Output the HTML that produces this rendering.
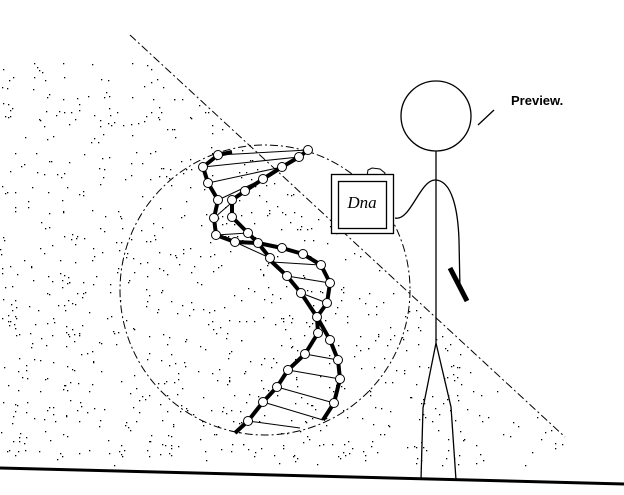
<!DOCTYPE html>
<html><head><style>html,body{margin:0;padding:0;background:#fff;width:624px;height:495px;overflow:hidden}</style></head>
<body>
<svg id="s" width="624" height="495" viewBox="0 0 624 495" xmlns="http://www.w3.org/2000/svg">
<g id="dots" fill="#000"></g>
<line x1="130" y1="35" x2="565" y2="437" stroke="#000" stroke-width="1" stroke-dasharray="8,3,2,3"/>
<circle cx="265" cy="290" r="145" fill="none" stroke="#000" stroke-width="1" stroke-dasharray="8,3,2,3"/>
<g stroke="#000" stroke-width="1">
<line x1="218" y1="155" x2="308" y2="150"/><line x1="203" y1="167" x2="299" y2="157"/>
<line x1="208" y1="183" x2="282" y2="167"/><line x1="218" y1="200" x2="263" y2="179"/>
<line x1="214" y1="218" x2="245" y2="191"/><line x1="216" y1="235" x2="248" y2="233"/>
<line x1="235" y1="242" x2="270" y2="258"/><line x1="272" y1="262" x2="320" y2="265"/>
<line x1="287" y1="276" x2="330" y2="283"/><line x1="301" y1="293" x2="327" y2="303"/>
<line x1="305" y1="354" x2="338" y2="360"/><line x1="288" y1="370" x2="340" y2="379"/>
<line x1="277" y1="387" x2="334" y2="403"/><line x1="263" y1="402" x2="323" y2="420"/>
<line x1="248" y1="421" x2="300" y2="428"/>
</g>
<g fill="none" stroke="#000" stroke-width="4" stroke-linejoin="round">
<polyline points="232,152 218,155 203,167 208,183 218,200 214,218 216,235 235,242 258,243 282,248 303,254 321,265 330,283 327,303 317,317 330,340 338,360 340,379 334,403 323,420"/>
<polyline points="308,150 299,157 282,167 263,179 245,191 232,200 232,217 248,233 258,243 270,258 272,262 287,276 301,293 317,317 318,333 305,354 288,370 277,387 263,402 248,421 235,433"/>
</g>
<g fill="#fff" stroke="#000" stroke-width="1">
<circle cx="218" cy="155" r="4.5"/><circle cx="203" cy="167" r="4.5"/><circle cx="208" cy="183" r="4.5"/><circle cx="218" cy="200" r="4.5"/><circle cx="214" cy="218" r="4.5"/><circle cx="216" cy="235" r="4.5"/><circle cx="235" cy="242" r="4.5"/><circle cx="258" cy="243" r="4.5"/><circle cx="282" cy="248" r="4.5"/><circle cx="303" cy="254" r="4.5"/><circle cx="321" cy="265" r="4.5"/><circle cx="330" cy="283" r="4.5"/><circle cx="327" cy="303" r="4.5"/><circle cx="330" cy="340" r="4.5"/><circle cx="338" cy="360" r="4.5"/><circle cx="340" cy="379" r="4.5"/><circle cx="334" cy="403" r="4.5"/>
<circle cx="308" cy="150" r="4.5"/><circle cx="299" cy="157" r="4.5"/><circle cx="282" cy="167" r="4.5"/><circle cx="263" cy="179" r="4.5"/><circle cx="245" cy="191" r="4.5"/><circle cx="232" cy="200" r="4.5"/><circle cx="232" cy="217" r="4.5"/><circle cx="248" cy="233" r="4.5"/><circle cx="270" cy="258" r="4.5"/><circle cx="287" cy="276" r="4.5"/><circle cx="301" cy="293" r="4.5"/><circle cx="317" cy="317" r="4.5"/><circle cx="318" cy="333" r="4.5"/><circle cx="305" cy="354" r="4.5"/><circle cx="288" cy="370" r="4.5"/><circle cx="277" cy="387" r="4.5"/><circle cx="263" cy="402" r="4.5"/><circle cx="248" cy="421" r="4.5"/>
</g>
<g fill="none" stroke="#000" stroke-width="1.3">
<circle cx="436" cy="116" r="35"/>
<line x1="436" y1="151" x2="436" y2="343"/>
<path d="M436,343 L423,408 L421,480"/>
<path d="M436,343 L451,407 L456,480"/>
<path d="M395,218 C410,222 420,180 435,180 C452,180 458,210 459,240 L460,290"/>
<line x1="478" y1="125" x2="494" y2="110"/>
</g>
<line x1="450" y1="268" x2="467" y2="301" stroke="#000" stroke-width="5"/>
<path d="M367,176 L368,170 L372,168 L380,169 L385,173 L384,176 Z" fill="#fff" stroke="#000" stroke-width="1"/>
<rect x="331.5" y="174.5" width="62" height="59" fill="#fff" stroke="#000" stroke-width="1.3"/>
<rect x="338.5" y="181.5" width="48" height="47" fill="none" stroke="#000" stroke-width="1.3"/>
<text x="362" y="208" text-anchor="middle" font-family="Liberation Serif, serif" font-style="italic" font-size="17">Dna</text>
<text x="511" y="105" font-family="Liberation Sans, sans-serif" font-weight="bold" font-size="13">Preview.</text>
<line x1="0" y1="468" x2="624" y2="484" stroke="#000" stroke-width="3"/>
</svg>
<script>
var g=document.getElementById('dots');var seed=12345;function r(){seed=(seed*1103515245+12345)%2147483648;return seed/2147483648;}
var h='';var n=0;
while(n<900){var x=r()*580,y=62+r()*405;
 var ly=35+(x-130)*402/435;
 if(y<ly+4||y>465)continue;
 if(x>480&&r()<0.6)continue;
 h+='<rect x="'+x.toFixed(0)+'" y="'+y.toFixed(0)+'" width="1.3" height="1.3"/>';n++;}
g.innerHTML=h;
</script>
</body></html>
